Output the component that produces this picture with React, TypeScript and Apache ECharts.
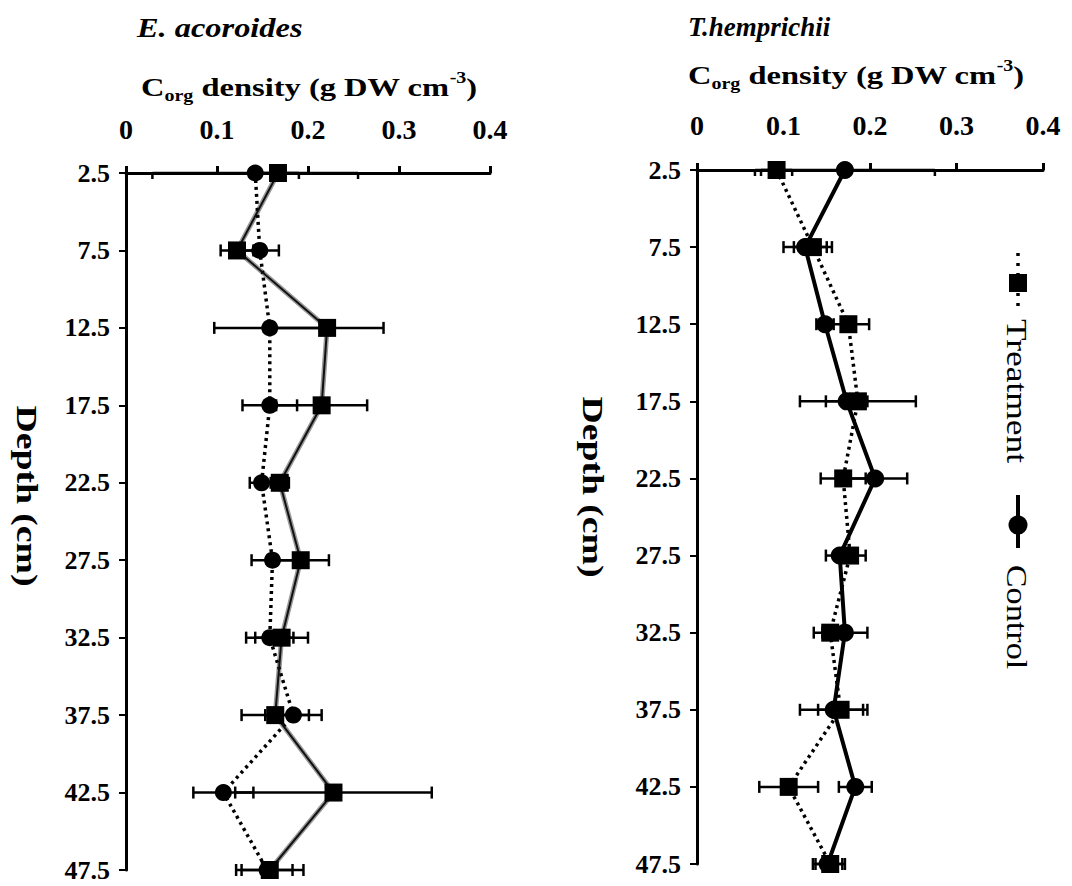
import React, { useEffect, useRef } from "react";
import * as echarts from "echarts";

// Depth tick labels (cm)
const depthLabels = ["2.5", "7.5", "12.5", "17.5", "22.5", "27.5", "32.5", "37.5", "42.5", "47.5"];

// E. acoroides
const eaTreatment = [0.167, 0.122, 0.221, 0.215, 0.169, 0.192, 0.171, 0.164, 0.228, 0.158];
const eaTreatmentErr = [0.023, 0.018, 0.062, 0.05, 0.01, 0.031, 0.029, 0.037, 0.108, 0.037];
const eaControl = [0.142, 0.147, 0.158, 0.158, 0.149, 0.161, 0.158, 0.184, 0.107, 0.155];
const eaControlErr = [0.113, 0.021, 0.061, 0.03, 0.013, 0.023, 0.026, 0.031, 0.033, 0.028];

// T. hemprichii
const thTreatment = [0.092, 0.134, 0.175, 0.186, 0.169, 0.177, 0.154, 0.166, 0.106, 0.154];
const thTreatmentErr = [0.018, 0.022, 0.024, 0.067, 0.026, 0.018, 0.019, 0.026, 0.034, 0.017];
const thControl = [0.171, 0.125, 0.148, 0.173, 0.206, 0.165, 0.171, 0.158, 0.183, 0.151];
const thControlErr = [0.104, 0.025, 0.01, 0.024, 0.037, 0.016, 0.026, 0.039, 0.019, 0.017];

const SERIF = '"Liberation Serif", "Times New Roman", serif';

function errSeries(name: string, vals: number[], errs: number[], axis: number) {
  return {
    type: "custom",
    name,
    xAxisIndex: axis,
    yAxisIndex: axis,
    z: 1,
    silent: true,
    encode: { x: 0, y: 1 },
    data: vals.map((v, i) => [v, i, errs[i]]),
    renderItem: (params: any, api: any) => {
      const x = api.value(0);
      const i = api.value(1);
      const e = api.value(2);
      const p1 = api.coord([x - e, i]);
      const p2 = api.coord([x + e, i]);
      const h = 6;
      const st = { stroke: "#000", lineWidth: 2.5 };
      const top = i === 0 ? 0 : h; // first row sits on the axis line: only lower half of cap shows
      return {
        type: "group",
        children: [
          { type: "line", shape: { x1: p1[0], y1: p1[1], x2: p2[0], y2: p2[1] }, style: st },
          { type: "line", shape: { x1: p1[0], y1: p1[1] - top, x2: p1[0], y2: p1[1] + h }, style: st },
          { type: "line", shape: { x1: p2[0], y1: p2[1] - top, x2: p2[0], y2: p2[1] + h }, style: st },
        ],
      };
    },
  };
}

function pts(vals: number[]) {
  return vals.map((v, i) => [v, depthLabels[i]]);
}

const dotted = { color: "#000", width: 3.5, type: [3, 4] as any };

function xAxisCfg(idx: number, margin: number) {
  return {
    type: "value",
    gridIndex: idx,
    position: "top",
    min: 0,
    max: 0.4,
    interval: 0.1,
    axisLine: { show: true, lineStyle: { color: "#000", width: 3 } },
    axisTick: { show: true, inside: false, length: 7, lineStyle: { color: "#000", width: 3 } },
    splitLine: { show: false },
    axisLabel: {
      margin,
      color: "#000",
      fontFamily: SERIF,
      fontWeight: "bold",
      fontSize: 28,
    },
  };
}

function yAxisCfg(idx: number) {
  return {
    type: "category",
    gridIndex: idx,
    data: depthLabels,
    inverse: true,
    boundaryGap: false,
    axisLine: { show: true, lineStyle: { color: "#000", width: 3 } },
    axisTick: { show: true, inside: false, length: 7, alignWithLabel: true, lineStyle: { color: "#000", width: 2 } },
    splitLine: { show: false },
    axisLabel: {
      margin: 16,
      color: "#000",
      fontFamily: SERIF,
      fontWeight: "bold",
      fontSize: 26,
    },
  };
}

function axisName(x: number, y: number) {
  return {
    type: "text",
    x,
    y,
    scaleX: 1.25,
    style: {
      text: "C{sub|org} density (g DW cm{sup|-3})",
      font: `bold 26px ${SERIF}`,
      fill: "#000",
      lineHeight: 34,
      textVerticalAlign: "middle",
      rich: {
        sub: { fontSize: 16, fontWeight: "bold", fontFamily: SERIF, fill: "#000", lineHeight: 16, verticalAlign: "bottom" },
        sup: { fontSize: 16, fontWeight: "bold", fontFamily: SERIF, fill: "#000", lineHeight: 20, verticalAlign: "top" },
      },
    },
  };
}

function depthName(x: number, y: number) {
  return {
    type: "text",
    x,
    y,
    rotation: -Math.PI / 2,
    scaleX: 1.3,
    style: {
      text: "Depth (cm)",
      font: `bold 29px ${SERIF}`,
      fill: "#000",
      textAlign: "center",
      textVerticalAlign: "middle",
    },
  };
}

export default function App() {
  const ref = useRef<HTMLDivElement>(null);
  useEffect(() => {
    if (!ref.current) return;
    const chart = echarts.init(ref.current, undefined, { renderer: "svg" });
    const option: any = {
      animation: false,
      backgroundColor: "#fff",
      grid: [
        { left: 126, top: 173, width: 364, height: 697 },
        { left: 697, top: 170, width: 346, height: 694 },
      ],
      xAxis: [xAxisCfg(0, 30), xAxisCfg(1, 31)],
      yAxis: [yAxisCfg(0), yAxisCfg(1)],
      series: [
        errSeries("E. acoroides Treatment error", eaTreatment, eaTreatmentErr, 0),
        errSeries("E. acoroides Control error", eaControl, eaControlErr, 0),
        {
          type: "line",
          name: "E. acoroides Control",
          xAxisIndex: 0,
          yAxisIndex: 0,
          z: 3,
          clip: false,
          data: pts(eaControl),
          symbol: "circle",
          symbolSize: 17,
          itemStyle: { color: "#000" },
          lineStyle: dotted,
        },
        {
          type: "line",
          name: "E. acoroides Treatment halo",
          xAxisIndex: 0,
          yAxisIndex: 0,
          z: 2,
          clip: false,
          silent: true,
          data: pts(eaTreatment),
          symbol: "none",
          lineStyle: { color: "#9a9a9a", width: 5 },
        },
        {
          type: "line",
          name: "E. acoroides Treatment",
          xAxisIndex: 0,
          yAxisIndex: 0,
          z: 4,
          clip: false,
          data: pts(eaTreatment),
          symbol: "rect",
          symbolSize: 18,
          itemStyle: { color: "#000" },
          lineStyle: { color: "#111", width: 2 },
        },
        errSeries("T. hemprichii Treatment error", thTreatment, thTreatmentErr, 1),
        errSeries("T. hemprichii Control error", thControl, thControlErr, 1),
        {
          type: "line",
          name: "T. hemprichii Treatment",
          xAxisIndex: 1,
          yAxisIndex: 1,
          z: 3,
          clip: false,
          data: pts(thTreatment),
          symbol: "rect",
          symbolSize: 18,
          itemStyle: { color: "#000" },
          lineStyle: dotted,
        },
        {
          type: "line",
          name: "T. hemprichii Control",
          xAxisIndex: 1,
          yAxisIndex: 1,
          z: 4,
          clip: false,
          data: pts(thControl),
          symbol: "circle",
          symbolSize: 18,
          itemStyle: { color: "#000" },
          lineStyle: { color: "#000", width: 4 },
        },
      ],
      graphic: [
        {
          type: "text",
          x: 137,
          y: 27,
          scaleX: 1.2,
          style: {
            text: "E. acoroides",
            font: `italic bold 27px ${SERIF}`,
            fill: "#000",
            textVerticalAlign: "middle",
          },
        },
        {
          type: "text",
          x: 688,
          y: 27,
          scaleX: 1.0,
          style: {
            text: "T.hemprichii",
            font: `italic bold 27px ${SERIF}`,
            fill: "#000",
            textVerticalAlign: "middle",
          },
        },
        axisName(141, 87),
        axisName(688, 75),
        depthName(27, 496),
        depthName(593, 487),
        // Legend: Treatment
        {
          type: "line",
          shape: { x1: 1018, y1: 253, x2: 1018, y2: 310 },
          style: { stroke: "#000", lineWidth: 3.5, lineDash: [3, 7] },
        },
        {
          type: "rect",
          shape: { x: 1009, y: 274, width: 18, height: 18 },
          style: { fill: "#000" },
        },
        {
          type: "text",
          x: 1017,
          y: 391,
          rotation: -Math.PI / 2,
          scaleX: 1.18,
          style: {
            text: "Treatment",
            font: `30px ${SERIF}`,
            fill: "#000",
            textAlign: "center",
            textVerticalAlign: "middle",
          },
        },
        // Legend: Control
        {
          type: "line",
          shape: { x1: 1018, y1: 495, x2: 1018, y2: 548 },
          style: { stroke: "#000", lineWidth: 4 },
        },
        {
          type: "circle",
          shape: { cx: 1018, cy: 525, r: 9.5 },
          style: { fill: "#000" },
        },
        {
          type: "text",
          x: 1017,
          y: 617,
          rotation: -Math.PI / 2,
          scaleX: 1.14,
          style: {
            text: "Control",
            font: `30px ${SERIF}`,
            fill: "#000",
            textAlign: "center",
            textVerticalAlign: "middle",
          },
        },
      ],
    };
    chart.setOption(option);
    return () => chart.dispose();
  }, []);
  return (
    <div
      ref={ref}
      style={{ position: "absolute", left: 0, top: 0, width: 1072, height: 886, background: "#fff" }}
    />
  );
}
